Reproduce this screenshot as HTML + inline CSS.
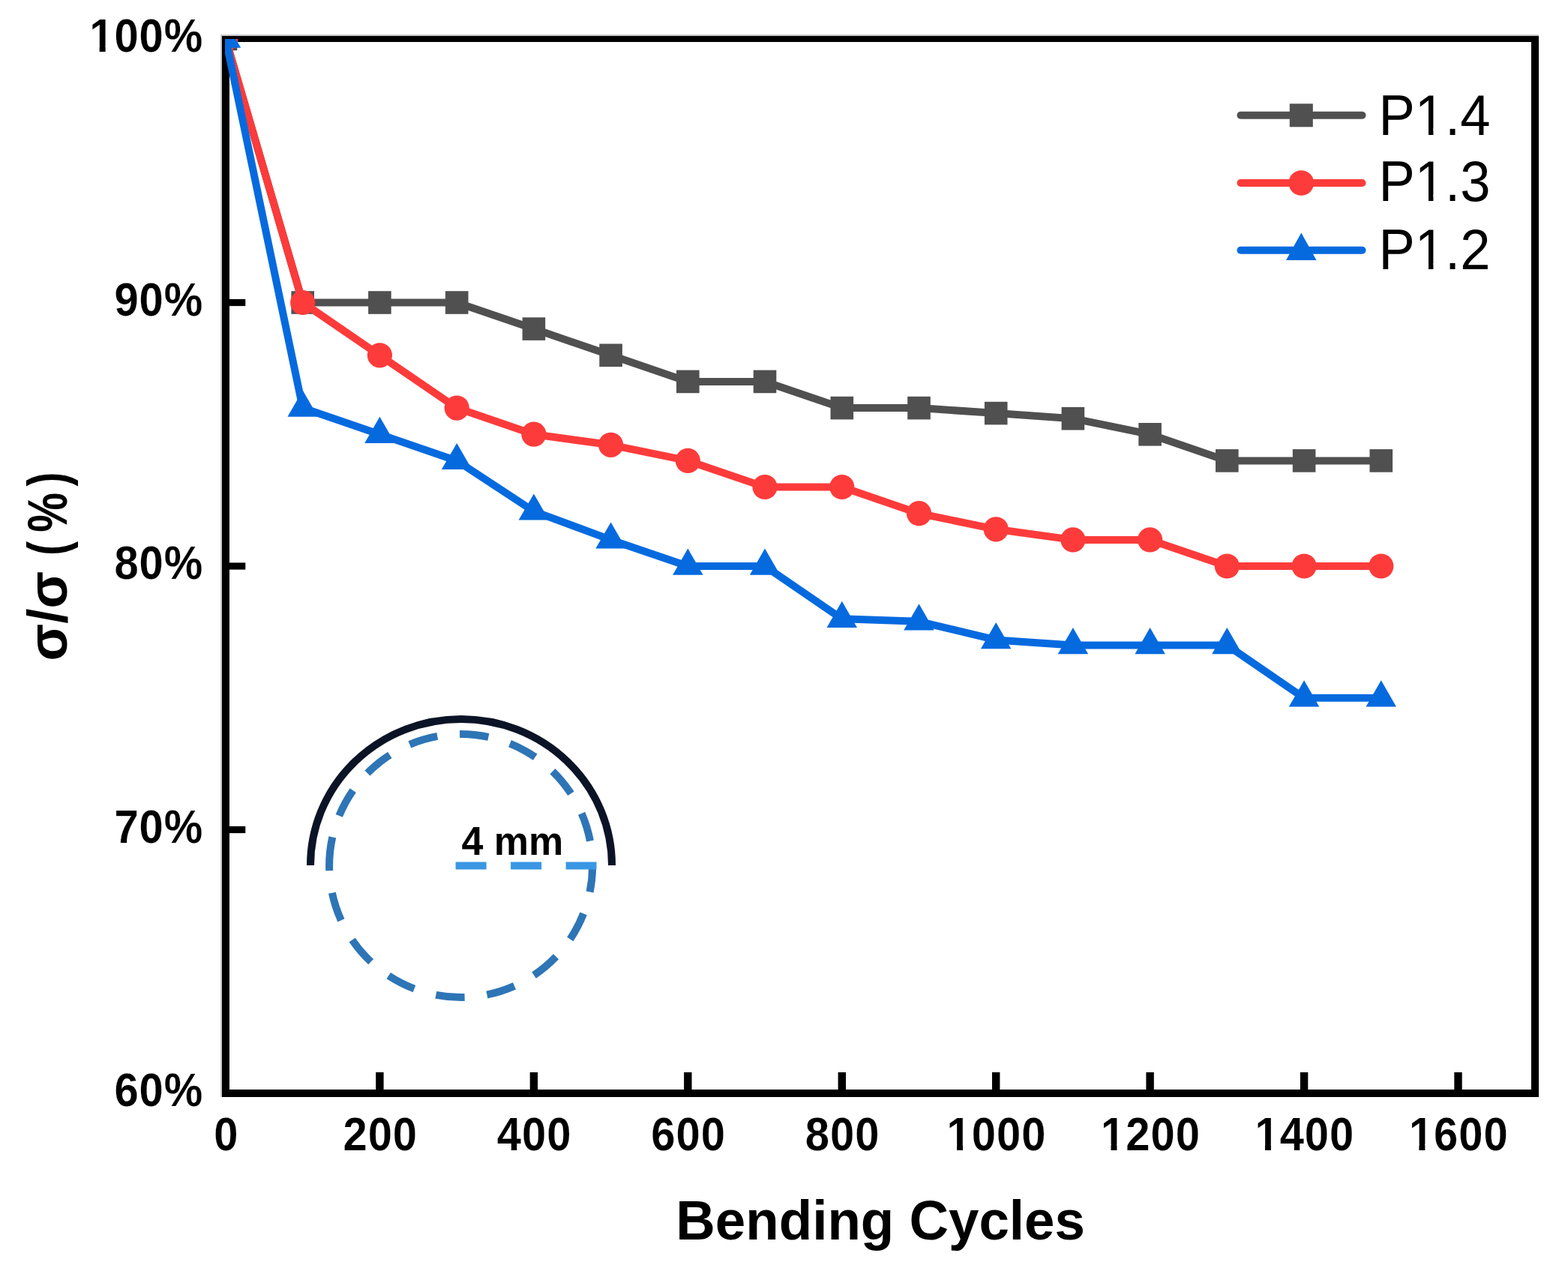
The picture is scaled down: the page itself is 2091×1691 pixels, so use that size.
<!DOCTYPE html>
<html lang="en">
<head>
<meta charset="utf-8">
<title>Bending Cycles</title>
<style>
html,body{margin:0;padding:0;background:#fff;}
body{width:2091px;height:1691px;overflow:hidden;}
svg{display:block;}
text{font-family:"Liberation Sans",sans-serif;fill:#000;}
.tick{font-weight:bold;font-size:63.5px;letter-spacing:1.1px;stroke:#fff;stroke-width:0.2px;}
.title{font-weight:bold;font-size:74.0px;}
.leg{font-size:76.0px;}
.inset{font-weight:bold;font-size:54.0px;}
</style>
</head>
<body>
<svg width="2091" height="1691" viewBox="0 0 2091 1691">
<rect x="0" y="0" width="2091" height="1691" fill="#fff"/>
<defs>
<clipPath id="plot"><rect x="300" y="52" width="1747" height="1406"/></clipPath>
<clipPath id="nf-tick" clipPathUnits="userSpaceOnUse"><path clip-rule="evenodd" d="M-400,-400H1200V400H-400Z M3.07,-8.65H14.82V6H3.07Z M23.53,-8.65H34.48V6H23.53Z"/></clipPath>
<clipPath id="nf-leg" clipPathUnits="userSpaceOnUse"><path clip-rule="evenodd" d="M-400,-400H1200V400H-400Z M55.37,-8.28H69.80V6H55.37Z M76.52,-8.28H90.36V6H76.52Z"/></clipPath>
</defs>

<rect x="294" y="46" width="2" height="1417" fill="#c9c9c9"/>
<rect x="294" y="46" width="1758" height="2" fill="#c9c9c9"/>
<g fill="#000">
<rect x="296" y="48" width="10" height="1415"/>
<rect x="2042" y="48" width="10" height="1415"/>
<rect x="296" y="48" width="1756" height="8"/>
<rect x="296" y="1453" width="1756" height="10"/>
<rect x="501.2" y="1430" width="10.4" height="24"/>
<rect x="706.7" y="1430" width="10.4" height="24"/>
<rect x="912.1" y="1430" width="10.4" height="24"/>
<rect x="1117.6" y="1430" width="10.4" height="24"/>
<rect x="1323.0" y="1430" width="10.4" height="24"/>
<rect x="1528.4" y="1430" width="10.4" height="24"/>
<rect x="1733.9" y="1430" width="10.4" height="24"/>
<rect x="1939.3" y="1430" width="10.4" height="24"/>
<rect x="305" y="398.9" width="22.3" height="9.2"/>
<rect x="305" y="750.4" width="22.3" height="9.2"/>
<rect x="305" y="1101.9" width="22.3" height="9.2"/>
</g>

<text class="tick" transform="translate(285.20,1534.30) scale(0.912,1)">0</text>
<text class="tick" transform="translate(457.42,1534.30) scale(0.912,1)">200</text>
<text class="tick" transform="translate(662.86,1534.30) scale(0.912,1)">400</text>
<text class="tick" transform="translate(868.30,1534.30) scale(0.912,1)">600</text>
<text class="tick" transform="translate(1073.74,1534.30) scale(0.912,1)">800</text>
<text class="tick" transform="translate(1262.57,1534.30) scale(0.912,1)" clip-path="url(#nf-tick)">1000</text>
<text class="tick" transform="translate(1468.01,1534.30) scale(0.912,1)" clip-path="url(#nf-tick)">1200</text>
<text class="tick" transform="translate(1673.45,1534.30) scale(0.912,1)" clip-path="url(#nf-tick)">1400</text>
<text class="tick" transform="translate(1878.88,1534.30) scale(0.912,1)" clip-path="url(#nf-tick)">1600</text>

<text class="tick" transform="translate(119.17,69.35) scale(0.912,1)" clip-path="url(#nf-tick)">100%</text>
<text class="tick" transform="translate(152.38,420.85) scale(0.912,1)">90%</text>
<text class="tick" transform="translate(152.38,772.35) scale(0.912,1)">80%</text>
<text class="tick" transform="translate(152.38,1123.85) scale(0.912,1)">70%</text>
<text class="tick" transform="translate(152.38,1475.35) scale(0.912,1)">60%</text>

<text class="title" transform="translate(901.35,1652.50) scale(0.983,1)">Bending Cycles</text>
<text class="title" transform="translate(89,881.53) rotate(-90) scale(0.983,1)">σ/σ <tspan dx="0.8" textLength="19.22" lengthAdjust="spacingAndGlyphs">(</tspan><tspan dx="12.3" textLength="53.69" lengthAdjust="spacingAndGlyphs">%</tspan><tspan dx="8.6" textLength="19.22" lengthAdjust="spacingAndGlyphs">)</tspan></text>

<g clip-path="url(#plot)">
<polyline points="301.0,52.0 403.7,403.5 506.4,403.5 609.2,403.5 711.9,438.6 814.6,473.8 917.3,508.9 1020.0,508.9 1122.8,544.1 1225.5,544.1 1328.2,551.1 1430.9,558.2 1533.6,579.2 1636.3,614.4 1739.1,614.4 1841.8,614.4" fill="none" stroke="#505050" stroke-width="10.0" stroke-linejoin="round"/>
<rect x="285.7" y="36.7" width="30.6" height="30.6" fill="#505050"/><rect x="388.4" y="388.2" width="30.6" height="30.6" fill="#505050"/><rect x="491.1" y="388.2" width="30.6" height="30.6" fill="#505050"/><rect x="593.9" y="388.2" width="30.6" height="30.6" fill="#505050"/><rect x="696.6" y="423.3" width="30.6" height="30.6" fill="#505050"/><rect x="799.3" y="458.5" width="30.6" height="30.6" fill="#505050"/><rect x="902.0" y="493.6" width="30.6" height="30.6" fill="#505050"/><rect x="1004.7" y="493.6" width="30.6" height="30.6" fill="#505050"/><rect x="1107.5" y="528.8" width="30.6" height="30.6" fill="#505050"/><rect x="1210.2" y="528.8" width="30.6" height="30.6" fill="#505050"/><rect x="1312.9" y="535.8" width="30.6" height="30.6" fill="#505050"/><rect x="1415.6" y="542.9" width="30.6" height="30.6" fill="#505050"/><rect x="1518.3" y="564.0" width="30.6" height="30.6" fill="#505050"/><rect x="1621.0" y="599.1" width="30.6" height="30.6" fill="#505050"/><rect x="1723.8" y="599.1" width="30.6" height="30.6" fill="#505050"/><rect x="1826.5" y="599.1" width="30.6" height="30.6" fill="#505050"/>
<polyline points="301.0,52.0 403.7,403.5 506.4,473.8 609.2,544.1 711.9,579.2 814.6,593.3 917.3,614.4 1020.0,649.5 1122.8,649.5 1225.5,684.7 1328.2,705.8 1430.9,719.9 1533.6,719.9 1636.3,755.0 1739.1,755.0 1841.8,755.0" fill="none" stroke="#fd3b3b" stroke-width="10.0" stroke-linejoin="round"/>
<circle cx="301.0" cy="52.0" r="16.6" fill="#fd3b3b"/><circle cx="403.7" cy="403.5" r="16.6" fill="#fd3b3b"/><circle cx="506.4" cy="473.8" r="16.6" fill="#fd3b3b"/><circle cx="609.2" cy="544.1" r="16.6" fill="#fd3b3b"/><circle cx="711.9" cy="579.2" r="16.6" fill="#fd3b3b"/><circle cx="814.6" cy="593.3" r="16.6" fill="#fd3b3b"/><circle cx="917.3" cy="614.4" r="16.6" fill="#fd3b3b"/><circle cx="1020.0" cy="649.5" r="16.6" fill="#fd3b3b"/><circle cx="1122.8" cy="649.5" r="16.6" fill="#fd3b3b"/><circle cx="1225.5" cy="684.7" r="16.6" fill="#fd3b3b"/><circle cx="1328.2" cy="705.8" r="16.6" fill="#fd3b3b"/><circle cx="1430.9" cy="719.9" r="16.6" fill="#fd3b3b"/><circle cx="1533.6" cy="719.9" r="16.6" fill="#fd3b3b"/><circle cx="1636.3" cy="755.0" r="16.6" fill="#fd3b3b"/><circle cx="1739.1" cy="755.0" r="16.6" fill="#fd3b3b"/><circle cx="1841.8" cy="755.0" r="16.6" fill="#fd3b3b"/>
<polyline points="301.0,52.0 403.7,544.1 506.4,579.2 609.2,614.4 711.9,681.9 814.6,719.9 917.3,755.0 1020.0,755.0 1122.8,825.3 1225.5,828.8 1328.2,853.4 1430.9,860.4 1533.6,860.4 1636.3,860.4 1739.1,930.8 1841.8,930.8" fill="none" stroke="#066adf" stroke-width="10.0" stroke-linejoin="round"/>
<polygon points="301.0,28.5 280.8,63.7 321.2,63.7" fill="#066adf"/><polygon points="403.7,520.6 383.5,555.8 424.0,555.8" fill="#066adf"/><polygon points="506.4,555.8 486.2,591.0 526.7,591.0" fill="#066adf"/><polygon points="609.2,590.9 588.9,626.1 629.4,626.1" fill="#066adf"/><polygon points="711.9,658.4 691.6,693.6 732.1,693.6" fill="#066adf"/><polygon points="814.6,696.4 794.3,731.6 834.8,731.6" fill="#066adf"/><polygon points="917.3,731.5 897.1,766.7 937.6,766.7" fill="#066adf"/><polygon points="1020.0,731.5 999.8,766.7 1040.3,766.7" fill="#066adf"/><polygon points="1122.8,801.8 1102.5,837.0 1143.0,837.0" fill="#066adf"/><polygon points="1225.5,805.3 1205.2,840.5 1245.7,840.5" fill="#066adf"/><polygon points="1328.2,830.0 1307.9,865.2 1348.4,865.2" fill="#066adf"/><polygon points="1430.9,837.0 1410.7,872.2 1451.2,872.2" fill="#066adf"/><polygon points="1533.6,837.0 1513.4,872.2 1553.9,872.2" fill="#066adf"/><polygon points="1636.3,837.0 1616.1,872.2 1656.6,872.2" fill="#066adf"/><polygon points="1739.1,907.3 1718.8,942.5 1759.3,942.5" fill="#066adf"/><polygon points="1841.8,907.3 1821.5,942.5 1862.0,942.5" fill="#066adf"/>
</g>

<line x1="1654.5" y1="153.8" x2="1816.5" y2="153.8" stroke="#505050" stroke-width="10.0" stroke-linecap="round"/>
<rect x="1719.8" y="138.3" width="31" height="31" fill="#505050"/>
<text class="leg" transform="translate(1838.50,179.50) scale(0.953,1)" clip-path="url(#nf-leg)">P1.4</text>
<line x1="1654.5" y1="244.0" x2="1816.5" y2="244.0" stroke="#fd3b3b" stroke-width="10.0" stroke-linecap="round"/>
<circle cx="1735.3" cy="244.0" r="16.8" fill="#fd3b3b"/>
<text class="leg" transform="translate(1838.50,268.20) scale(0.953,1)" clip-path="url(#nf-leg)">P1.3</text>
<line x1="1654.5" y1="333.7" x2="1816.5" y2="333.7" stroke="#066adf" stroke-width="10.0" stroke-linecap="round"/>
<polygon points="1735.3,310.6 1715.0,347.1 1755.5,347.1" fill="#066adf"/>
<text class="leg" transform="translate(1838.50,359.30) scale(0.953,1)" clip-path="url(#nf-leg)">P1.2</text>

<path d="M 414 1154 A 201 195 0 0 1 816 1154" fill="none" stroke="#0b1426" stroke-width="10"/>
<path d="M 439.1 1154.5 A 175.5 175.5 0 1 1 439.1 1154.6" fill="none" stroke="#2e75b6" stroke-width="10" stroke-dasharray="38.5 29.95"/>
<line x1="607.6" y1="1154.4" x2="795.5" y2="1154.4" stroke="#3b97e3" stroke-width="10" stroke-dasharray="41 32.5"/>
<text class="inset" transform="translate(615.50,1139.50) scale(0.962,1)">4 mm</text>

</svg>
</body>
</html>
